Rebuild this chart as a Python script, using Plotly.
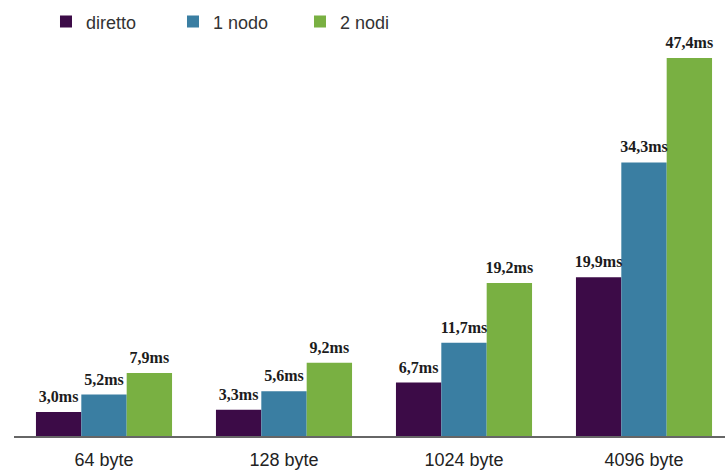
import plotly.graph_objects as go

# Message size categories and latency per routing mode (ms)
categories = ["64 byte", "128 byte", "1024 byte", "4096 byte"]
diretto = [3.0, 3.3, 6.7, 19.9]
nodo1 = [5.2, 5.6, 11.7, 34.3]
nodi2 = [7.9, 9.2, 19.2, 47.4]

series = [
    ("diretto", diretto, "#3c0b47"),
    ("1 nodo", nodo1, "#3a7ea2"),
    ("2 nodi", nodi2, "#79b042"),
]


def fmt(v):
    return f"{v:.1f}".replace(".", ",") + "ms"


fig = go.Figure()
for i, (name, vals, color) in enumerate(series):
    fig.add_trace(go.Bar(
        x=categories,
        y=vals,
        name=name,
        offsetgroup=str(i),
        marker=dict(color=color, line=dict(width=0)),
        hoverinfo="skip",
    ))

# Value labels sit above each bar, aligned with the grouped bars
for i, (name, vals, color) in enumerate(series):
    fig.add_trace(go.Scatter(
        x=categories,
        y=vals,
        mode="markers+text",
        offsetgroup=str(i),
        marker=dict(size=8, opacity=0),
        text=[fmt(v) for v in vals],
        textposition="top center",
        textfont=dict(family="Liberation Serif", size=16, color="#1c1c1c",
                      weight="bold"),
        showlegend=False,
        hoverinfo="skip",
        cliponaxis=False,
    ))

fig.update_layout(
    width=725,
    height=471,
    margin=dict(l=14, r=0, t=0, b=35, autoexpand=False),
    paper_bgcolor="white",
    plot_bgcolor="white",
    barmode="group",
    scattermode="group",
    bargap=0.244,
    bargroupgap=0,
    scattergap=0.244,
    showlegend=True,
    legend=dict(
        orientation="h",
        x=0.045,
        y=0.95,
        xanchor="left",
        yanchor="middle",
        font=dict(family="Liberation Sans", size=18, color="#333333"),
        entrywidth=82,
        entrywidthmode="pixels",
        itemclick=False,
        bgcolor="rgba(0,0,0,0)",
    ),
    xaxis=dict(
        range=[-0.5, 3.45],
        showline=True,
        linecolor="#666666",
        linewidth=2,
        ticks="outside",
        ticklen=6,
        tickcolor="rgba(0,0,0,0)",
        tickfont=dict(family="Liberation Sans", size=18, color="#222222"),
        showgrid=False,
    ),
    yaxis=dict(
        range=[0, 54.67],
        visible=False,
        showgrid=False,
        zeroline=False,
    ),
)

fig.write_html("out.html")
